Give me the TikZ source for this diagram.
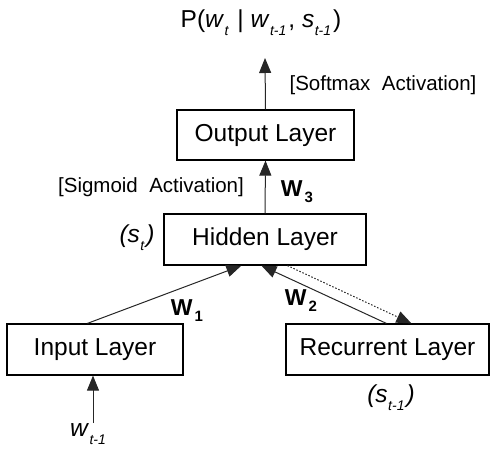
\documentclass[tikz,border=0pt]{standalone}
\usepackage{fontspec}
\setmainfont{Liberation Sans}
\usetikzlibrary{arrows.meta,calc}
\newcommand{\sbx}[1]{\kern0.5pt\raisebox{-0.6ex}{\fontsize{14}{14}\selectfont\itshape #1}\kern2pt}
\newcommand{\sbb}[1]{\kern2pt\raisebox{-0.5ex}{\fontsize{15}{15}\selectfont\bfseries #1}}
\begin{document}
\begin{tikzpicture}[x=1pt,y=-1pt,
  layer/.style={draw=black,line width=1.2pt,minimum width=#1,minimum height=50pt,inner sep=0pt,font=\fontsize{24.5}{28}\selectfont},
  conn/.style={line width=1pt,draw=black!85},
  tip/.style={-{Triangle[length=15pt,width=12pt]}},
  lbl/.style={inner sep=0pt,font=\fontsize{20.5}{24}\selectfont},
  wlbl/.style={inner sep=0pt,font=\fontsize{23}{26}\selectfont\bfseries}]
\useasboundingbox (0,0) rectangle (494,454);
\node[layer=177pt] (out) at (265.5,135) {Output Layer};
\node[layer=202pt,minimum height=51pt] (hid) at (265,239.5) {Hidden Layer};
\node[layer=176pt,minimum height=51pt] (inp) at (95,349.5) {Input Layer};
\node[layer=203pt,minimum height=51pt] (rec) at (387.5,349.5) {Recurrent Layer};
\node[inner sep=0pt,font=\fontsize{24.5}{28}\selectfont] (title) at (261,23)
  {P(\textit{w}\sbx{t}\ | \textit{w}\sbx{t-1}, \textit{s}\sbx{t-1})};
\coordinate (top) at (265,58);
\coordinate (wbot) at (93,423);
\coordinate (h1) at ([xshift=78pt]hid.south west);
\coordinate (h2) at ([xshift=98pt]hid.south west);
\coordinate (h3) at ([xshift=124pt]hid.south west);
\coordinate (r1) at ([xshift=101pt]rec.north west);
\coordinate (r2) at ([xshift=126pt]rec.north west);
\coordinate (i1) at ([xshift=81pt]inp.north west);
\draw[conn,tip] (out.north) -- (top);
\draw[conn,tip] (hid.north) -- (out.south);
\draw[conn,tip] (i1) -- (h1);
\draw[conn,tip] (r1) -- (h2);
\draw[conn,tip,dash pattern=on 1.5pt off 1.8pt] (h3) -- (r2);
\draw[conn,tip] (wbot) -- (inp.south -| wbot);
\node[lbl] (soft) at (383,85) {[Softmax\ \ Activation]};
\node[lbl] (sig) at (151,187) {[Sigmoid\ \ Activation]};
\node[wlbl] (w3) at (297,192) {W\sbb{3}};
\node[wlbl] (w1) at (187,311) {W\sbb{1}};
\node[wlbl] (w2) at (301,301) {W\sbb{2}};
\node[inner sep=0pt,font=\fontsize{24.5}{28}\selectfont\itshape] (st) at (137,238) {(\textit{s}\sbx{t})};
\node[inner sep=0pt,font=\fontsize{24.5}{28}\selectfont\itshape] (st1) at (391,398) {(\textit{s}\sbx{t-1})};
\node[inner sep=0pt,font=\fontsize{24.5}{28}\selectfont] (w) at (89,434) {\textit{w}\sbx{t-1}};
\end{tikzpicture}
\end{document}
